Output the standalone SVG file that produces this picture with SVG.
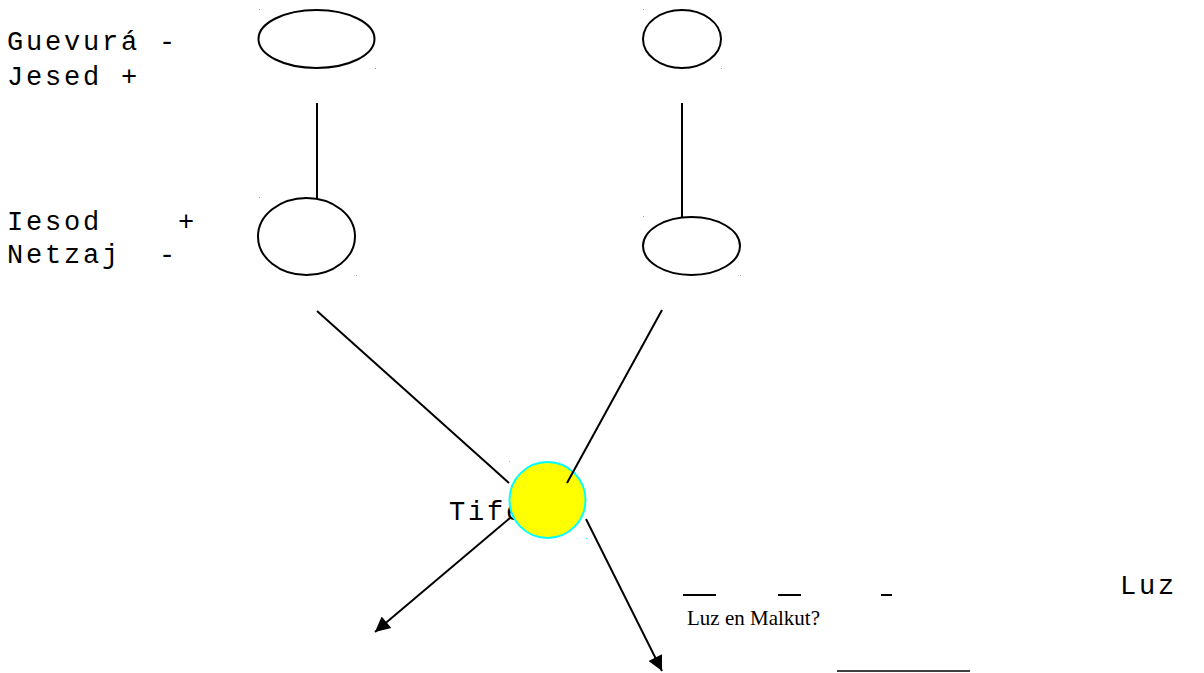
<svg xmlns="http://www.w3.org/2000/svg" width="1204" height="673" viewBox="0 0 1204 673">
<style>
.mono{font-family:"Liberation Mono","Courier New",monospace;font-size:27px;letter-spacing:2.8px;fill:#000;white-space:pre}
.serif{font-family:"Liberation Serif","Times New Roman",serif;font-size:21px;fill:#000}
.node{fill:none;stroke:#000;stroke-width:2}
.conn{stroke:#000;stroke-width:2;fill:none}
.dot{fill:#999}
.cdot{fill:#00ffff}
</style>
<defs>
<marker id="ah" viewBox="0 0 10 10" refX="10" refY="5" markerWidth="18" markerHeight="15" markerUnits="userSpaceOnUse" orient="auto">
<path d="M0,0 L10,5 L0,10 Z" fill="#000"/>
</marker>
</defs>
<rect width="1204" height="673" fill="#fff"/>
<g id="labels">
<text class="mono" x="7" y="50" xml:space="preserve">Guevurá -</text>
<text class="mono" x="7" y="85" xml:space="preserve">Jesed +</text>
<text class="mono" x="7" y="230" xml:space="preserve">Iesod    +</text>
<text class="mono" x="7" y="263" xml:space="preserve">Netzaj  -</text>
<text class="mono" x="449" y="520">Tife</text>
<text class="mono" x="1120" y="594">Luz</text>
<text class="serif" x="687" y="625">Luz en Malkut?</text>
</g>
<g id="guevura">
<ellipse class="node" cx="316.5" cy="39" rx="58" ry="29"/>
<rect class="dot" x="259" y="9" width="1" height="1"/><rect class="dot" x="375" y="68" width="1" height="1"/>
</g>
<g id="iesod">
<ellipse class="node" cx="306.5" cy="236.5" rx="48.5" ry="38.5"/>
<rect class="dot" x="259" y="197" width="1" height="1"/><rect class="dot" x="356" y="275" width="1" height="1"/>
</g>
<g id="top-right">
<ellipse class="node" cx="682" cy="39" rx="39" ry="29"/>
<rect class="dot" x="643" y="9" width="1" height="1"/><rect class="dot" x="721" y="68" width="1" height="1"/>
</g>
<g id="bottom-right">
<ellipse class="node" cx="691.5" cy="246" rx="48.5" ry="29"/>
<rect class="dot" x="643" y="216" width="1" height="1"/><rect class="dot" x="740" y="275" width="1" height="1"/>
</g>
<g id="tiferet">
<circle cx="547.5" cy="500" r="38" fill="#ffff00" stroke="#00ffff" stroke-width="2"/>
<rect class="cdot" x="509" y="461" width="1" height="1"/><rect class="cdot" x="586" y="538" width="1" height="1"/>
</g>
<g id="connectors">
<line class="conn" x1="317" y1="103" x2="317" y2="198"/>
<line class="conn" x1="682" y1="103" x2="682" y2="217"/>
<line class="conn" x1="317" y1="311" x2="509" y2="483"/>
<line class="conn" x1="662" y1="310" x2="567" y2="483"/>
<line class="conn" x1="510" y1="518" x2="375" y2="632" marker-end="url(#ah)"/>
<line class="conn" x1="586" y1="519" x2="662" y2="671" marker-end="url(#ah)"/>
</g>
<g id="marks">
<line class="conn" x1="683" y1="595" x2="716" y2="595"/>
<line class="conn" x1="778" y1="595" x2="801" y2="595"/>
<line class="conn" x1="881" y1="595" x2="892" y2="595"/>
<line stroke="#000" stroke-width="1.5" x1="837" y1="671" x2="970" y2="671"/>
</g>
</svg>
